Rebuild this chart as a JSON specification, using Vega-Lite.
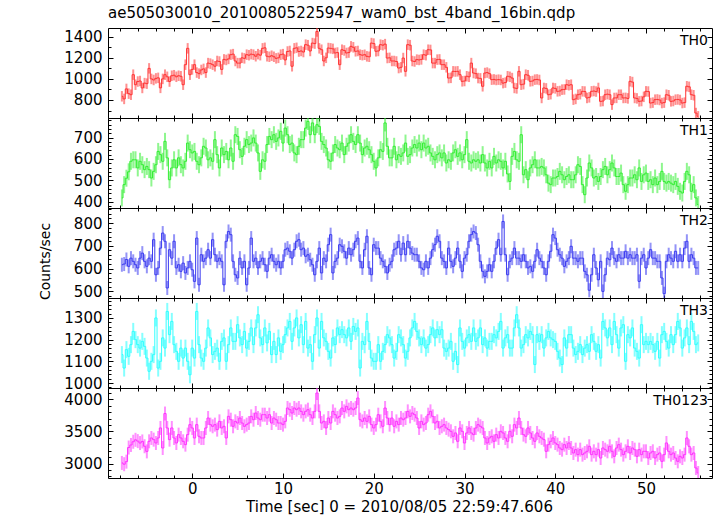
{
"$schema":"https://vega.github.io/schema/vega-lite/v6.json",
"padding":{"left":37,"top":6,"right":5,"bottom":0},
"title":{"text":"ae505030010_20100805225947_wam0_bst_4band_16bin.qdp","anchor":"start","frame":"group","offset":-6,"baseline":"alphabetic","font":"DejaVu Sans","fontSize":15,"fontWeight":"normal","color":"#000"},
"data":{"values":[
{"t":-7.75,"a":835,"b":418,"c":617,"d":1131,"s":3010},
{"t":-7.5,"a":810,"b":480,"c":620,"d":1069,"s":2990},
{"t":-7.25,"a":905,"b":510,"c":640,"d":1154,"s":3030},
{"t":-7,"a":860,"b":540,"c":610,"d":1123,"s":3250},
{"t":-6.75,"a":850,"b":589,"c":646,"d":1177,"s":3290},
{"t":-6.5,"a":1040,"b":596,"c":632,"d":1238,"s":3340},
{"t":-6.25,"a":945,"b":596,"c":617,"d":1200,"s":3370},
{"t":-6,"a":975,"b":558,"c":603,"d":1177,"s":3350},
{"t":-5.75,"a":980,"b":589,"c":646,"d":1161,"s":3320},
{"t":-5.5,"a":914,"b":573,"c":668,"d":1192,"s":3345},
{"t":-5.25,"a":960,"b":550,"c":632,"d":1169,"s":3270},
{"t":-5,"a":955,"b":565,"c":610,"d":1115,"s":3190},
{"t":-4.75,"a":1100,"b":550,"c":646,"d":1054,"s":3347},
{"t":-4.5,"a":1000,"b":511,"c":632,"d":1100,"s":3399},
{"t":-4.25,"a":990,"b":542,"c":727,"d":1131,"s":3373},
{"t":-4,"a":1005,"b":573,"c":573,"d":1300,"s":3321},
{"t":-3.75,"a":1010,"b":635,"c":603,"d":1069,"s":3399},
{"t":-3.5,"a":915,"b":620,"c":690,"d":1100,"s":3555},
{"t":-3.25,"a":1000,"b":589,"c":756,"d":1208,"s":3243},
{"t":-3,"a":1040,"b":682,"c":720,"d":1161,"s":3780},
{"t":-2.75,"a":1020,"b":605,"c":515,"d":1330,"s":3555},
{"t":-2.5,"a":975,"b":503,"c":683,"d":1223,"s":3373},
{"t":-2.25,"a":1030,"b":558,"c":646,"d":1284,"s":3555},
{"t":-2,"a":1035,"b":596,"c":720,"d":1177,"s":3399},
{"t":-1.75,"a":1020,"b":558,"c":603,"d":1146,"s":3321},
{"t":-1.5,"a":1030,"b":605,"c":617,"d":1100,"s":3451},
{"t":-1.25,"a":1025,"b":573,"c":588,"d":1161,"s":3399},
{"t":-1,"a":945,"b":558,"c":624,"d":1115,"s":3347},
{"t":-0.75,"a":1135,"b":589,"c":581,"d":1161,"s":3295},
{"t":-0.5,"a":1290,"b":674,"c":603,"d":1100,"s":3451},
{"t":-0.25,"a":1040,"b":643,"c":632,"d":1038,"s":3607},
{"t":0,"a":1090,"b":628,"c":595,"d":1161,"s":3555},
{"t":0.25,"a":1135,"b":635,"c":544,"d":1115,"s":3399},
{"t":0.5,"a":1060,"b":589,"c":734,"d":1330,"s":3607},
{"t":0.75,"a":1050,"b":573,"c":529,"d":1177,"s":3425},
{"t":1,"a":1085,"b":605,"c":661,"d":1115,"s":3399},
{"t":1.25,"a":1095,"b":659,"c":632,"d":1100,"s":3399},
{"t":1.5,"a":1060,"b":651,"c":646,"d":1161,"s":3555},
{"t":1.75,"a":1150,"b":596,"c":683,"d":1254,"s":3710},
{"t":2,"a":1145,"b":605,"c":646,"d":1208,"s":3607},
{"t":2.25,"a":1135,"b":589,"c":727,"d":1131,"s":3581},
{"t":2.5,"a":1120,"b":690,"c":661,"d":1146,"s":3607},
{"t":2.75,"a":1170,"b":620,"c":632,"d":1161,"s":3529},
{"t":3,"a":1165,"b":558,"c":646,"d":1100,"s":3658},
{"t":3.25,"a":1090,"b":651,"c":632,"d":1192,"s":3555},
{"t":3.5,"a":1185,"b":620,"c":529,"d":1208,"s":3581},
{"t":3.75,"a":1180,"b":635,"c":720,"d":1100,"s":3399},
{"t":4,"a":1190,"b":596,"c":763,"d":1177,"s":3736},
{"t":4.25,"a":1230,"b":651,"c":749,"d":1254,"s":3684},
{"t":4.5,"a":1235,"b":589,"c":632,"d":1192,"s":3581},
{"t":4.75,"a":1170,"b":713,"c":573,"d":1192,"s":3658},
{"t":5,"a":1150,"b":705,"c":559,"d":1269,"s":3632},
{"t":5.25,"a":1150,"b":643,"c":646,"d":1208,"s":3710},
{"t":5.5,"a":1200,"b":612,"c":603,"d":1177,"s":3632},
{"t":5.75,"a":1195,"b":659,"c":632,"d":1238,"s":3581},
{"t":6,"a":1230,"b":690,"c":529,"d":1161,"s":3607},
{"t":6.25,"a":1225,"b":667,"c":603,"d":1192,"s":3632},
{"t":6.5,"a":1235,"b":674,"c":734,"d":1254,"s":3736},
{"t":6.75,"a":1230,"b":698,"c":632,"d":1177,"s":3684},
{"t":7,"a":1215,"b":674,"c":646,"d":1254,"s":3788},
{"t":7.25,"a":1235,"b":628,"c":603,"d":1315,"s":3710},
{"t":7.5,"a":1225,"b":542,"c":632,"d":1208,"s":3684},
{"t":7.75,"a":1290,"b":596,"c":646,"d":1177,"s":3762},
{"t":8,"a":1295,"b":589,"c":617,"d":1254,"s":3762},
{"t":8.25,"a":1215,"b":667,"c":588,"d":1185,"s":3710},
{"t":8.5,"a":1210,"b":705,"c":646,"d":1238,"s":3762},
{"t":8.75,"a":1220,"b":690,"c":661,"d":1131,"s":3632},
{"t":9,"a":1210,"b":713,"c":632,"d":1192,"s":3710},
{"t":9.25,"a":1195,"b":682,"c":617,"d":1131,"s":3684},
{"t":9.5,"a":1200,"b":698,"c":632,"d":1208,"s":3632},
{"t":9.75,"a":1230,"b":729,"c":603,"d":1146,"s":3632},
{"t":10,"a":1235,"b":674,"c":632,"d":1177,"s":3607},
{"t":10.25,"a":1180,"b":744,"c":683,"d":1223,"s":3658},
{"t":10.5,"a":1260,"b":713,"c":690,"d":1254,"s":3866},
{"t":10.75,"a":1265,"b":667,"c":676,"d":1284,"s":3840},
{"t":11,"a":1120,"b":674,"c":646,"d":1192,"s":3788},
{"t":11.25,"a":1290,"b":628,"c":683,"d":1254,"s":3866},
{"t":11.5,"a":1295,"b":620,"c":720,"d":1300,"s":3840},
{"t":11.75,"a":1260,"b":659,"c":727,"d":1208,"s":3866},
{"t":12,"a":1265,"b":690,"c":683,"d":1269,"s":3814},
{"t":12.25,"a":1255,"b":690,"c":690,"d":1177,"s":3762},
{"t":12.5,"a":1325,"b":744,"c":654,"d":1284,"s":3814},
{"t":12.75,"a":1320,"b":775,"c":661,"d":1161,"s":3840},
{"t":13,"a":1265,"b":713,"c":639,"d":1177,"s":3762},
{"t":13.25,"a":1340,"b":768,"c":617,"d":1100,"s":3710},
{"t":13.5,"a":1335,"b":713,"c":573,"d":1223,"s":3814},
{"t":13.75,"a":1450,"b":760,"c":632,"d":1300,"s":4100},
{"t":14,"a":1290,"b":752,"c":690,"d":1161,"s":3814},
{"t":14.25,"a":1277,"b":682,"c":581,"d":1284,"s":3632},
{"t":14.5,"a":1170,"b":667,"c":646,"d":1208,"s":3658},
{"t":14.75,"a":1200,"b":651,"c":632,"d":1192,"s":3555},
{"t":15,"a":1293,"b":596,"c":705,"d":1146,"s":3710},
{"t":15.25,"a":1290,"b":589,"c":749,"d":1115,"s":3632},
{"t":15.5,"a":1285,"b":628,"c":581,"d":1208,"s":3814},
{"t":15.75,"a":1246,"b":667,"c":632,"d":1177,"s":3762},
{"t":16,"a":1250,"b":651,"c":646,"d":1254,"s":3710},
{"t":16.25,"a":1135,"b":643,"c":705,"d":1223,"s":3736},
{"t":16.5,"a":1277,"b":674,"c":698,"d":1246,"s":3866},
{"t":16.75,"a":1270,"b":620,"c":676,"d":1223,"s":3814},
{"t":17,"a":1246,"b":659,"c":646,"d":1208,"s":3892},
{"t":17.25,"a":1250,"b":674,"c":690,"d":1254,"s":3840},
{"t":17.5,"a":1309,"b":713,"c":661,"d":1192,"s":3866},
{"t":17.75,"a":1300,"b":682,"c":683,"d":1261,"s":3840},
{"t":18,"a":1262,"b":667,"c":720,"d":1238,"s":3866},
{"t":18.25,"a":1265,"b":713,"c":734,"d":1254,"s":4022},
{"t":18.5,"a":1230,"b":674,"c":632,"d":1069,"s":3684},
{"t":18.75,"a":1225,"b":620,"c":603,"d":1192,"s":3658},
{"t":19,"a":1230,"b":651,"c":683,"d":1177,"s":3710},
{"t":19.25,"a":1214,"b":659,"c":742,"d":1284,"s":3658},
{"t":19.5,"a":1210,"b":643,"c":603,"d":1192,"s":3736},
{"t":19.75,"a":1340,"b":620,"c":573,"d":1115,"s":3607},
{"t":20,"a":1335,"b":589,"c":705,"d":1100,"s":3555},
{"t":20.25,"a":1262,"b":558,"c":690,"d":1100,"s":3607},
{"t":20.5,"a":1265,"b":605,"c":690,"d":1177,"s":3762},
{"t":20.75,"a":1325,"b":643,"c":646,"d":1100,"s":3658},
{"t":21,"a":1320,"b":635,"c":632,"d":1146,"s":3581},
{"t":21.25,"a":1330,"b":768,"c":610,"d":1177,"s":3866},
{"t":21.5,"a":1198,"b":659,"c":581,"d":1223,"s":3710},
{"t":21.75,"a":1200,"b":605,"c":617,"d":1208,"s":3607},
{"t":22,"a":1170,"b":605,"c":632,"d":1177,"s":3710},
{"t":22.25,"a":1170,"b":659,"c":683,"d":1115,"s":3581},
{"t":22.5,"a":1165,"b":596,"c":690,"d":1146,"s":3658},
{"t":22.75,"a":1103,"b":620,"c":720,"d":1223,"s":3607},
{"t":23,"a":1110,"b":612,"c":661,"d":1208,"s":3710},
{"t":23.25,"a":1198,"b":628,"c":712,"d":1177,"s":3684},
{"t":23.5,"a":1072,"b":674,"c":661,"d":1115,"s":3710},
{"t":23.75,"a":1325,"b":612,"c":720,"d":1146,"s":3814},
{"t":24,"a":1320,"b":620,"c":690,"d":1208,"s":3736},
{"t":24.25,"a":1170,"b":651,"c":668,"d":1254,"s":3788},
{"t":24.5,"a":1165,"b":667,"c":661,"d":1284,"s":3762},
{"t":24.75,"a":1183,"b":651,"c":661,"d":1238,"s":3710},
{"t":25,"a":1180,"b":674,"c":632,"d":1208,"s":3555},
{"t":25.25,"a":1185,"b":643,"c":603,"d":1177,"s":3658},
{"t":25.5,"a":1230,"b":674,"c":595,"d":1208,"s":3607},
{"t":25.75,"a":1225,"b":651,"c":632,"d":1161,"s":3632},
{"t":26,"a":1277,"b":659,"c":603,"d":1177,"s":3762},
{"t":26.25,"a":1275,"b":628,"c":646,"d":1223,"s":3814},
{"t":26.5,"a":1150,"b":612,"c":683,"d":1254,"s":3736},
{"t":26.75,"a":1150,"b":596,"c":705,"d":1208,"s":3632},
{"t":27,"a":1183,"b":620,"c":742,"d":1246,"s":3658},
{"t":27.25,"a":1185,"b":628,"c":720,"d":1223,"s":3555},
{"t":27.5,"a":1135,"b":605,"c":646,"d":1246,"s":3581},
{"t":27.75,"a":1135,"b":628,"c":632,"d":1161,"s":3607},
{"t":28,"a":1110,"b":581,"c":603,"d":1146,"s":3555},
{"t":28.25,"a":1008,"b":596,"c":690,"d":1161,"s":3529},
{"t":28.5,"a":1010,"b":589,"c":632,"d":1192,"s":3503},
{"t":28.75,"a":1072,"b":628,"c":610,"d":1100,"s":3425},
{"t":29,"a":1070,"b":643,"c":646,"d":1146,"s":3477},
{"t":29.25,"a":1072,"b":612,"c":690,"d":1085,"s":3347},
{"t":29.5,"a":1040,"b":628,"c":632,"d":1254,"s":3555},
{"t":29.75,"a":977,"b":596,"c":588,"d":1192,"s":3503},
{"t":30,"a":980,"b":620,"c":646,"d":1161,"s":3321},
{"t":30.25,"a":1025,"b":690,"c":661,"d":1208,"s":3477},
{"t":30.5,"a":1020,"b":589,"c":720,"d":1223,"s":3555},
{"t":30.75,"a":1150,"b":581,"c":749,"d":1192,"s":3477},
{"t":31,"a":1056,"b":596,"c":763,"d":1254,"s":3451},
{"t":31.25,"a":1050,"b":589,"c":756,"d":1192,"s":3555},
{"t":31.5,"a":1008,"b":596,"c":705,"d":1208,"s":3607},
{"t":31.75,"a":1005,"b":581,"c":632,"d":1254,"s":3581},
{"t":32,"a":930,"b":620,"c":588,"d":1177,"s":3555},
{"t":32.25,"a":1056,"b":581,"c":566,"d":1208,"s":3399},
{"t":32.5,"a":1060,"b":558,"c":588,"d":1161,"s":3321},
{"t":32.75,"a":1050,"b":589,"c":617,"d":1192,"s":3399},
{"t":33,"a":993,"b":558,"c":588,"d":1192,"s":3425},
{"t":33.25,"a":995,"b":612,"c":632,"d":1223,"s":3347},
{"t":33.5,"a":990,"b":581,"c":690,"d":1208,"s":3451},
{"t":33.75,"a":993,"b":596,"c":727,"d":1238,"s":3399},
{"t":34,"a":990,"b":589,"c":661,"d":1284,"s":3503},
{"t":34.25,"a":960,"b":558,"c":807,"d":1161,"s":3477},
{"t":34.5,"a":965,"b":589,"c":661,"d":1208,"s":3399},
{"t":34.75,"a":1025,"b":530,"c":573,"d":1223,"s":3347},
{"t":35,"a":1020,"b":495,"c":632,"d":1161,"s":3503},
{"t":35.25,"a":1008,"b":612,"c":646,"d":1161,"s":3425},
{"t":35.5,"a":914,"b":635,"c":690,"d":1254,"s":3607},
{"t":35.75,"a":910,"b":596,"c":646,"d":1315,"s":3555},
{"t":36,"a":1072,"b":589,"c":646,"d":1254,"s":3710},
{"t":36.25,"a":945,"b":713,"c":632,"d":1161,"s":3555},
{"t":36.5,"a":950,"b":526,"c":661,"d":1177,"s":3451},
{"t":36.75,"a":1040,"b":550,"c":632,"d":1223,"s":3425},
{"t":37,"a":1035,"b":503,"c":603,"d":1208,"s":3555},
{"t":37.25,"a":977,"b":558,"c":610,"d":1238,"s":3477},
{"t":37.5,"a":980,"b":573,"c":588,"d":1223,"s":3399},
{"t":37.75,"a":993,"b":596,"c":632,"d":1085,"s":3347},
{"t":38,"a":995,"b":558,"c":683,"d":1223,"s":3477},
{"t":38.25,"a":990,"b":558,"c":646,"d":1192,"s":3425},
{"t":38.5,"a":819,"b":565,"c":632,"d":1223,"s":3399},
{"t":38.75,"a":914,"b":558,"c":603,"d":1161,"s":3373},
{"t":39,"a":910,"b":526,"c":573,"d":1208,"s":3191},
{"t":39.25,"a":850,"b":487,"c":632,"d":1238,"s":3295},
{"t":39.5,"a":855,"b":480,"c":676,"d":1208,"s":3347},
{"t":39.75,"a":914,"b":511,"c":749,"d":1200,"s":3399},
{"t":40,"a":910,"b":511,"c":734,"d":1192,"s":3321},
{"t":40.25,"a":882,"b":518,"c":683,"d":1146,"s":3295},
{"t":40.5,"a":885,"b":542,"c":661,"d":1115,"s":3243},
{"t":40.75,"a":898,"b":526,"c":646,"d":1085,"s":3217},
{"t":41,"a":900,"b":503,"c":610,"d":1208,"s":3295},
{"t":41.25,"a":945,"b":518,"c":632,"d":1161,"s":3243},
{"t":41.5,"a":940,"b":526,"c":646,"d":1223,"s":3321},
{"t":41.75,"a":945,"b":503,"c":698,"d":1223,"s":3243},
{"t":42,"a":803,"b":503,"c":646,"d":1161,"s":3165},
{"t":42.25,"a":810,"b":526,"c":646,"d":1131,"s":3217},
{"t":42.5,"a":850,"b":573,"c":632,"d":1146,"s":3139},
{"t":42.75,"a":855,"b":565,"c":646,"d":1177,"s":3217},
{"t":43,"a":882,"b":480,"c":646,"d":1131,"s":3139},
{"t":43.25,"a":880,"b":433,"c":588,"d":1161,"s":3165},
{"t":43.5,"a":819,"b":511,"c":573,"d":1177,"s":3191},
{"t":43.75,"a":825,"b":581,"c":505,"d":1146,"s":3269},
{"t":44,"a":882,"b":558,"c":573,"d":1223,"s":3139},
{"t":44.25,"a":885,"b":511,"c":661,"d":1192,"s":3191},
{"t":44.5,"a":880,"b":518,"c":603,"d":1146,"s":3139},
{"t":44.75,"a":914,"b":495,"c":551,"d":1177,"s":3217},
{"t":45,"a":787,"b":518,"c":632,"d":1115,"s":3087},
{"t":45.25,"a":790,"b":550,"c":500,"d":1284,"s":3243},
{"t":45.5,"a":850,"b":565,"c":573,"d":1254,"s":3217},
{"t":45.75,"a":855,"b":526,"c":646,"d":1208,"s":3191},
{"t":46,"a":850,"b":550,"c":639,"d":1254,"s":3269},
{"t":46.25,"a":756,"b":581,"c":690,"d":1177,"s":3191},
{"t":46.5,"a":819,"b":558,"c":646,"d":1284,"s":3113},
{"t":46.75,"a":820,"b":518,"c":632,"d":1223,"s":3243},
{"t":47,"a":850,"b":518,"c":661,"d":1161,"s":3295},
{"t":47.25,"a":850,"b":534,"c":646,"d":1254,"s":3217},
{"t":47.5,"a":819,"b":480,"c":646,"d":1269,"s":3139},
{"t":47.75,"a":820,"b":449,"c":676,"d":1100,"s":3191},
{"t":48,"a":815,"b":480,"c":646,"d":1223,"s":3269},
{"t":48.25,"a":977,"b":511,"c":661,"d":1208,"s":3165},
{"t":48.5,"a":970,"b":511,"c":646,"d":1254,"s":3243},
{"t":48.75,"a":819,"b":526,"c":646,"d":1161,"s":3217},
{"t":49,"a":815,"b":503,"c":661,"d":1146,"s":3113},
{"t":49.25,"a":787,"b":558,"c":544,"d":1115,"s":3217},
{"t":49.5,"a":790,"b":495,"c":646,"d":1269,"s":3139},
{"t":49.75,"a":830,"b":526,"c":661,"d":1177,"s":3191},
{"t":50,"a":882,"b":534,"c":603,"d":1192,"s":3191},
{"t":50.25,"a":880,"b":495,"c":646,"d":1177,"s":3087},
{"t":50.5,"a":771,"b":503,"c":683,"d":1192,"s":3165},
{"t":50.75,"a":775,"b":480,"c":646,"d":1177,"s":3191},
{"t":51,"a":803,"b":511,"c":646,"d":1146,"s":3087},
{"t":51.25,"a":805,"b":480,"c":632,"d":1192,"s":3139},
{"t":51.5,"a":800,"b":495,"c":632,"d":1115,"s":3165},
{"t":51.75,"a":771,"b":542,"c":559,"d":1223,"s":3035},
{"t":52,"a":775,"b":495,"c":490,"d":1238,"s":3139},
{"t":52.25,"a":850,"b":487,"c":632,"d":1192,"s":3321},
{"t":52.5,"a":845,"b":495,"c":661,"d":1161,"s":3191},
{"t":52.75,"a":787,"b":487,"c":646,"d":1223,"s":3139},
{"t":53,"a":790,"b":480,"c":632,"d":1177,"s":3165},
{"t":53.25,"a":803,"b":495,"c":676,"d":1223,"s":3087},
{"t":53.5,"a":805,"b":472,"c":632,"d":1284,"s":3035},
{"t":53.75,"a":800,"b":449,"c":661,"d":1254,"s":3113},
{"t":54,"a":771,"b":441,"c":632,"d":1161,"s":3087},
{"t":54.25,"a":775,"b":495,"c":690,"d":1208,"s":3139},
{"t":54.5,"a":930,"b":542,"c":720,"d":1254,"s":3399},
{"t":54.75,"a":925,"b":526,"c":632,"d":1177,"s":3269},
{"t":55,"a":850,"b":449,"c":661,"d":1284,"s":3139},
{"t":55.25,"a":845,"b":480,"c":646,"d":1238,"s":3165},
{"t":55.5,"a":676,"b":418,"c":603,"d":1177,"s":2931},
{"t":55.75,"a":645,"b":387,"c":603,"d":1185,"s":2853}
]},
"spacing":0,
"bounds":"flush",
"vconcat":[
{"width":604,"height":90,
 "layer":[
  {"mark":{"type":"tick","orient":"vertical","size":10.5,"thickness":2,"color":"#ff3333","opacity":0.55,"clip":true},
   "encoding":{
    "x":{"field":"t","type":"quantitative","scale":{"domain":[-9.28,57.27],"nice":false,"zero":false},
         "axis":{"orient":"bottom","values":[-8,-6,-4,-2,0,2,4,6,8,10,12,14,16,18,20,22,24,26,28,30,32,34,36,38,40,42,44,46,48,50,52,54,56],"labels":false,"title":null,"tickSize":{"condition":{"test":"datum.value % 10 === 0","value":-5},"value":-3}}},
    "y":{"field":"a","type":"quantitative","scale":{"domain":[629,1483],"nice":false,"zero":false},
         "axis":{"orient":"left","values":[700,800,900,1000,1100,1200,1300,1400],"format":"d","labelExpr":"datum.value % 200 === 0 ? datum.label : ''","labelPadding":11,"title":null,"tickSize":{"condition":{"test":"datum.value % 200 === 0","value":-5},"value":-3}}}}},
  {"mark":{"type":"line","interpolate":"step","color":"#ff3333","strokeWidth":1,"clip":true},
   "encoding":{
    "x":{"field":"t","type":"quantitative","scale":{"domain":[-9.28,57.27],"nice":false,"zero":false},
         "axis":{"orient":"top","values":[-8,-6,-4,-2,0,2,4,6,8,10,12,14,16,18,20,22,24,26,28,30,32,34,36,38,40,42,44,46,48,50,52,54,56],"labels":false,"title":null,"tickSize":{"condition":{"test":"datum.value % 10 === 0","value":-5},"value":-3}}},
    "y":{"field":"a","type":"quantitative","scale":{"domain":[629,1483],"nice":false,"zero":false},
         "axis":{"orient":"right","values":[700,800,900,1000,1100,1200,1300,1400],"labels":false,"title":null,"tickSize":{"condition":{"test":"datum.value % 200 === 0","value":-5},"value":-3}}}}},
  {"data":{"values":[{"name":"TH0"}]},
   "mark":{"type":"text","align":"right","baseline":"alphabetic","dx":-4,"dy":17,"fontSize":14,"font":"DejaVu Sans","color":"#000"},
   "encoding":{"text":{"field":"name"},
    "x":{"datum":57.27,"type":"quantitative","scale":{"domain":[-9.28,57.27],"nice":false,"zero":false},"axis":null},
    "y":{"datum":1483,"type":"quantitative","scale":{"domain":[629,1483],"nice":false,"zero":false},"axis":null}}}
 ],
 "resolve":{"axis":{"x":"independent","y":"independent"}}},
{"width":604,"height":90,
 "layer":[
  {"mark":{"type":"tick","orient":"vertical","size":17,"thickness":2,"color":"#33ee33","opacity":0.55,"clip":true},
   "encoding":{
    "x":{"field":"t","type":"quantitative","scale":{"domain":[-9.28,57.27],"nice":false,"zero":false},
         "axis":{"orient":"bottom","values":[-8,-6,-4,-2,0,2,4,6,8,10,12,14,16,18,20,22,24,26,28,30,32,34,36,38,40,42,44,46,48,50,52,54,56],"labels":false,"title":null,"tickSize":{"condition":{"test":"datum.value % 10 === 0","value":-5},"value":-3}}},
    "y":{"field":"b","type":"quantitative","scale":{"domain":[371,791],"nice":false,"zero":false},
         "axis":{"orient":"left","values":[380,400,420,440,460,480,500,520,540,560,580,600,620,640,660,680,700,720,740,760,780],"format":"d","labelExpr":"datum.value % 100 === 0 ? datum.label : ''","labelPadding":11,"title":null,"tickSize":{"condition":{"test":"datum.value % 100 === 0","value":-5},"value":-3}}}}},
  {"mark":{"type":"line","interpolate":"step","color":"#33ee33","strokeWidth":1,"clip":true},
   "encoding":{
    "x":{"field":"t","type":"quantitative","scale":{"domain":[-9.28,57.27],"nice":false,"zero":false},
         "axis":{"orient":"top","values":[-8,-6,-4,-2,0,2,4,6,8,10,12,14,16,18,20,22,24,26,28,30,32,34,36,38,40,42,44,46,48,50,52,54,56],"labels":false,"title":null,"tickSize":{"condition":{"test":"datum.value % 10 === 0","value":-5},"value":-3}}},
    "y":{"field":"b","type":"quantitative","scale":{"domain":[371,791],"nice":false,"zero":false},
         "axis":{"orient":"right","values":[380,400,420,440,460,480,500,520,540,560,580,600,620,640,660,680,700,720,740,760,780],"labels":false,"title":null,"tickSize":{"condition":{"test":"datum.value % 100 === 0","value":-5},"value":-3}}}}},
  {"data":{"values":[{"name":"TH1"}]},
   "mark":{"type":"text","align":"right","baseline":"alphabetic","dx":-4,"dy":17,"fontSize":14,"font":"DejaVu Sans","color":"#000"},
   "encoding":{"text":{"field":"name"},
    "x":{"datum":57.27,"type":"quantitative","scale":{"domain":[-9.28,57.27],"nice":false,"zero":false},"axis":null},
    "y":{"datum":791,"type":"quantitative","scale":{"domain":[371,791],"nice":false,"zero":false},"axis":null}}}
 ],
 "resolve":{"axis":{"x":"independent","y":"independent"}}},
{"width":604,"height":90,
 "layer":[
  {"mark":{"type":"tick","orient":"vertical","size":14,"thickness":2,"color":"#3b3bf0","opacity":0.55,"clip":true},
   "encoding":{
    "x":{"field":"t","type":"quantitative","scale":{"domain":[-9.28,57.27],"nice":false,"zero":false},
         "axis":{"orient":"bottom","values":[-8,-6,-4,-2,0,2,4,6,8,10,12,14,16,18,20,22,24,26,28,30,32,34,36,38,40,42,44,46,48,50,52,54,56],"labels":false,"title":null,"tickSize":{"condition":{"test":"datum.value % 10 === 0","value":-5},"value":-3}}},
    "y":{"field":"c","type":"quantitative","scale":{"domain":[471,866],"nice":false,"zero":false},
         "axis":{"orient":"left","values":[480,500,520,540,560,580,600,620,640,660,680,700,720,740,760,780,800,820,840,860],"format":"d","labelExpr":"datum.value % 100 === 0 ? datum.label : ''","labelPadding":11,"title":"Counts/sec","titleFontSize":14,"titlePadding":21,"titleY":53,"tickSize":{"condition":{"test":"datum.value % 100 === 0","value":-5},"value":-3}}}}},
  {"mark":{"type":"line","interpolate":"step","color":"#3b3bf0","strokeWidth":1,"clip":true},
   "encoding":{
    "x":{"field":"t","type":"quantitative","scale":{"domain":[-9.28,57.27],"nice":false,"zero":false},
         "axis":{"orient":"top","values":[-8,-6,-4,-2,0,2,4,6,8,10,12,14,16,18,20,22,24,26,28,30,32,34,36,38,40,42,44,46,48,50,52,54,56],"labels":false,"title":null,"tickSize":{"condition":{"test":"datum.value % 10 === 0","value":-5},"value":-3}}},
    "y":{"field":"c","type":"quantitative","scale":{"domain":[471,866],"nice":false,"zero":false},
         "axis":{"orient":"right","values":[480,500,520,540,560,580,600,620,640,660,680,700,720,740,760,780,800,820,840,860],"labels":false,"title":null,"tickSize":{"condition":{"test":"datum.value % 100 === 0","value":-5},"value":-3}}}}},
  {"data":{"values":[{"name":"TH2"}]},
   "mark":{"type":"text","align":"right","baseline":"alphabetic","dx":-4,"dy":17,"fontSize":14,"font":"DejaVu Sans","color":"#000"},
   "encoding":{"text":{"field":"name"},
    "x":{"datum":57.27,"type":"quantitative","scale":{"domain":[-9.28,57.27],"nice":false,"zero":false},"axis":null},
    "y":{"datum":866,"type":"quantitative","scale":{"domain":[471,866],"nice":false,"zero":false},"axis":null}}}
 ],
 "resolve":{"axis":{"x":"independent","y":"independent"}}},
{"width":604,"height":90,
 "layer":[
  {"mark":{"type":"tick","orient":"vertical","size":17,"thickness":2,"color":"#33ffff","opacity":0.6,"clip":true},
   "encoding":{
    "x":{"field":"t","type":"quantitative","scale":{"domain":[-9.28,57.27],"nice":false,"zero":false},
         "axis":{"orient":"bottom","values":[-8,-6,-4,-2,0,2,4,6,8,10,12,14,16,18,20,22,24,26,28,30,32,34,36,38,40,42,44,46,48,50,52,54,56],"labels":false,"title":null,"tickSize":{"condition":{"test":"datum.value % 10 === 0","value":-5},"value":-3}}},
    "y":{"field":"d","type":"quantitative","scale":{"domain":[977,1392],"nice":false,"zero":false},
         "axis":{"orient":"left","values":[980,1000,1020,1040,1060,1080,1100,1120,1140,1160,1180,1200,1220,1240,1260,1280,1300,1320,1340,1360,1380],"format":"d","labelExpr":"datum.value % 100 === 0 ? datum.label : ''","labelPadding":11,"title":null,"tickSize":{"condition":{"test":"datum.value % 100 === 0","value":-5},"value":-3}}}}},
  {"mark":{"type":"line","interpolate":"step","color":"#33ffff","strokeWidth":1,"clip":true},
   "encoding":{
    "x":{"field":"t","type":"quantitative","scale":{"domain":[-9.28,57.27],"nice":false,"zero":false},
         "axis":{"orient":"top","values":[-8,-6,-4,-2,0,2,4,6,8,10,12,14,16,18,20,22,24,26,28,30,32,34,36,38,40,42,44,46,48,50,52,54,56],"labels":false,"title":null,"tickSize":{"condition":{"test":"datum.value % 10 === 0","value":-5},"value":-3}}},
    "y":{"field":"d","type":"quantitative","scale":{"domain":[977,1392],"nice":false,"zero":false},
         "axis":{"orient":"right","values":[980,1000,1020,1040,1060,1080,1100,1120,1140,1160,1180,1200,1220,1240,1260,1280,1300,1320,1340,1360,1380],"labels":false,"title":null,"tickSize":{"condition":{"test":"datum.value % 100 === 0","value":-5},"value":-3}}}}},
  {"data":{"values":[{"name":"TH3"}]},
   "mark":{"type":"text","align":"right","baseline":"alphabetic","dx":-4,"dy":17,"fontSize":14,"font":"DejaVu Sans","color":"#000"},
   "encoding":{"text":{"field":"name"},
    "x":{"datum":57.27,"type":"quantitative","scale":{"domain":[-9.28,57.27],"nice":false,"zero":false},"axis":null},
    "y":{"datum":1392,"type":"quantitative","scale":{"domain":[977,1392],"nice":false,"zero":false},"axis":null}}}
 ],
 "resolve":{"axis":{"x":"independent","y":"independent"}}},
{"width":604,"height":90,
 "layer":[
  {"mark":{"type":"tick","orient":"vertical","size":14,"thickness":2,"color":"#ff33ff","opacity":0.55,"clip":true},
   "encoding":{
    "x":{"field":"t","type":"quantitative","scale":{"domain":[-9.28,57.27],"nice":false,"zero":false},
         "axis":{"orient":"bottom","values":[-8,-6,-4,-2,0,2,4,6,8,10,12,14,16,18,20,22,24,26,28,30,32,34,36,38,40,42,44,46,48,50,52,54,56],"labelExpr":"datum.value % 10 === 0 ? datum.label : ''","format":"d","labelPadding":8,"title":"Time [sec] 0 = 2010/08/05 22:59:47.606","titlePadding":1,"titleX":291,"tickSize":{"condition":{"test":"datum.value % 10 === 0","value":-5},"value":-3}}},
    "y":{"field":"s","type":"quantitative","scale":{"domain":[2775,4178],"nice":false,"zero":false},
         "axis":{"orient":"left","values":[2800,2900,3000,3100,3200,3300,3400,3500,3600,3700,3800,3900,4000,4100],"format":"d","labelExpr":"datum.value % 500 === 0 ? datum.label : ''","labelPadding":11,"title":null,"tickSize":{"condition":{"test":"datum.value % 500 === 0","value":-5},"value":-3}}}}},
  {"mark":{"type":"line","interpolate":"step","color":"#ff33ff","strokeWidth":1,"clip":true},
   "encoding":{
    "x":{"field":"t","type":"quantitative","scale":{"domain":[-9.28,57.27],"nice":false,"zero":false},
         "axis":{"orient":"top","values":[-8,-6,-4,-2,0,2,4,6,8,10,12,14,16,18,20,22,24,26,28,30,32,34,36,38,40,42,44,46,48,50,52,54,56],"labels":false,"title":null,"tickSize":{"condition":{"test":"datum.value % 10 === 0","value":-5},"value":-3}}},
    "y":{"field":"s","type":"quantitative","scale":{"domain":[2775,4178],"nice":false,"zero":false},
         "axis":{"orient":"right","values":[2800,2900,3000,3100,3200,3300,3400,3500,3600,3700,3800,3900,4000,4100],"labels":false,"title":null,"tickSize":{"condition":{"test":"datum.value % 500 === 0","value":-5},"value":-3}}}}},
  {"data":{"values":[{"name":"TH0123"}]},
   "mark":{"type":"text","align":"right","baseline":"alphabetic","dx":-4,"dy":17,"fontSize":14,"font":"DejaVu Sans","color":"#000"},
   "encoding":{"text":{"field":"name"},
    "x":{"datum":57.27,"type":"quantitative","scale":{"domain":[-9.28,57.27],"nice":false,"zero":false},"axis":null},
    "y":{"datum":4178,"type":"quantitative","scale":{"domain":[2775,4178],"nice":false,"zero":false},"axis":null}}}
 ],
 "resolve":{"axis":{"x":"independent","y":"independent"}}}
],
"config":{
 "font":"DejaVu Sans",
 "view":{"stroke":"#000","strokeWidth":1},
 "axis":{"domain":false,"grid":false,"minExtent":0,"labelFont":"DejaVu Sans","labelFontSize":15,"labelColor":"#000","tickColor":"#000","tickWidth":1,"labelOverlap":false,"labelFlush":false,"labelBound":false,"titleFont":"DejaVu Sans","titleFontSize":15,"titleFontWeight":"normal","titleColor":"#000"},
 "title":{"font":"DejaVu Sans","fontWeight":"normal","color":"#000","fontSize":14}
}
}
